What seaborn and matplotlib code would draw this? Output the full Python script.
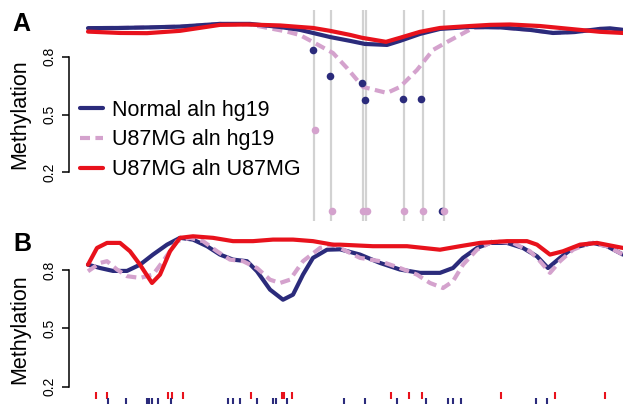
import matplotlib
matplotlib.use("Agg")
import matplotlib.pyplot as plt
from matplotlib.lines import Line2D
import pandas as pd
import seaborn as sns

# ---- panel A: region around the CpG cluster ----
a_normal_x = [88, 120, 150, 180, 220, 250, 280, 300, 313, 330, 350, 365, 387, 400, 420, 440, 470, 500, 530, 553, 575, 600, 610, 623]
a_normal_y = [0.948, 0.949, 0.952, 0.956, 0.970, 0.970, 0.954, 0.939, 0.923, 0.902, 0.882, 0.866, 0.861, 0.882, 0.918, 0.944,
              0.954, 0.952, 0.939, 0.923, 0.928, 0.944, 0.947, 0.939]
a_u87_hg19_x = [88, 120, 150, 180, 220, 250, 263, 287, 300, 313, 333, 347, 363, 387, 400, 417, 433, 447, 473, 487, 500, 530, 553, 575, 600, 623]
a_u87_hg19_y = [0.948, 0.949, 0.952, 0.956, 0.970, 0.967, 0.954, 0.930, 0.912, 0.876, 0.819, 0.741, 0.643, 0.612, 0.643, 0.731,
                0.835, 0.876, 0.949, 0.954, 0.952, 0.939, 0.923, 0.928, 0.944, 0.939]
a_u87_u87_x = [88, 120, 147, 180, 220, 247, 280, 300, 313, 330, 350, 362, 386, 400, 420, 440, 470, 490, 510, 540, 570, 600, 623]
a_u87_u87_y = [0.930, 0.923, 0.922, 0.934, 0.965, 0.967, 0.962, 0.954, 0.949, 0.934, 0.913, 0.898, 0.877, 0.898, 0.929, 0.949,
               0.959, 0.965, 0.967, 0.959, 0.944, 0.929, 0.923]

# CpG sites and per-site methylation calls
cpg_x = [314, 331, 363, 366, 404, 423, 444]
cpg_normal_x = [313, 330, 362, 365, 403, 421, 442]
cpg_normal = [0.835, 0.70, 0.664, 0.575, 0.58, 0.58, 0.0]
cpg_u87_hg19_x = [315, 332, 363, 367, 404, 423, 444]
cpg_u87_hg19 = [0.42, 0.0, 0.0, 0.0, 0.0, 0.0, 0.0]

# ---- panel B: wider region ----
b_normal_x = [88, 100, 113, 127, 140, 153, 167, 180, 193, 207, 220, 233, 247, 257, 270, 283, 293, 303, 313, 327, 340, 360,
              380, 400, 420, 440, 453, 463, 477, 490, 507, 523, 537, 548, 560, 573, 593, 607, 623]
b_normal_y = [0.827, 0.810, 0.795, 0.795, 0.827, 0.879, 0.930, 0.965, 0.956, 0.922, 0.879, 0.853, 0.845, 0.793, 0.699, 0.647,
              0.673, 0.776, 0.862, 0.904, 0.906, 0.879, 0.836, 0.802, 0.785, 0.785, 0.810, 0.862, 0.913, 0.939, 0.939, 0.913,
              0.870, 0.810, 0.862, 0.913, 0.939, 0.922, 0.879]
b_u87_hg19_x = [88, 100, 107, 117, 127, 140, 153, 163, 177, 190, 203, 217, 230, 243, 257, 270, 280, 290, 303, 320, 333, 340,
                360, 380, 400, 417, 430, 443, 453, 463, 477, 493, 513, 530, 540, 550, 560, 573, 590, 607, 623]
b_u87_hg19_y = [0.793, 0.836, 0.845, 0.802, 0.768, 0.759, 0.776, 0.845, 0.948, 0.965, 0.948, 0.896, 0.853, 0.845, 0.810,
                0.750, 0.733, 0.750, 0.845, 0.913, 0.930, 0.913, 0.862, 0.845, 0.810, 0.776, 0.733, 0.707, 0.742, 0.827,
                0.904, 0.948, 0.939, 0.896, 0.845, 0.785, 0.845, 0.904, 0.939, 0.922, 0.879]
b_u87_u87_x = [88, 97, 107, 120, 130, 140, 152, 160, 170, 180, 193, 213, 233, 253, 273, 293, 313, 333, 340, 373, 407, 440,
               460, 480, 507, 527, 537, 550, 563, 580, 597, 623]
b_u87_u87_y = [0.827, 0.913, 0.939, 0.939, 0.896, 0.827, 0.733, 0.776, 0.896, 0.965, 0.973, 0.965, 0.948, 0.948, 0.956,
               0.956, 0.948, 0.930, 0.930, 0.922, 0.922, 0.904, 0.922, 0.939, 0.948, 0.948, 0.930, 0.879, 0.896, 0.930,
               0.939, 0.913]

# CpG positions covered by each alignment (rug)
rug_u87_u87 = [96, 107, 168, 172, 183, 251, 282, 284, 292, 391, 409, 422, 501, 555, 605]
rug_normal = [108, 126, 147, 149, 152, 158, 171, 228, 233, 240, 257, 273, 276, 287, 344, 365, 397, 426, 448, 453, 461,
              536, 547]

labels = ["Normal aln hg19", "U87MG aln hg19", "U87MG aln U87MG"]
colors = {"Normal aln hg19": "#2b2b7b", "U87MG aln hg19": "#d4a2cd", "U87MG aln U87MG": "#e8121c"}
dash = (2.4, 1.3)
lw = 3

sns.set_style("white")
plt.rcParams["font.family"] = ["Liberation Sans", "DejaVu Sans"]
plt.rcParams["text.color"] = "black"
plt.rcParams["ytick.color"] = "black"

W, H = 623, 404
fig = plt.figure(figsize=(W / 100, H / 100), dpi=100)
x0 = 68.5
axA = fig.add_axes([x0 / W, (H - 221) / H, (W - x0) / W, 216 / H])
axB = fig.add_axes([x0 / W, 0, (W - x0) / W, (H - 225) / H])


def draw_curve(ax, x, y, name):
    df = pd.DataFrame({"pos": x, "meth": y})
    sns.lineplot(data=df, x="pos", y="meth", ax=ax, color=colors[name], lw=lw,
                 sort=False, estimator=None, legend=False)
    if name == "U87MG aln hg19":
        ax.lines[-1].set_dashes(dash)


# panel A
axA.vlines(cpg_x, -0.052, 1.043, color="#d2d2d2", lw=1.6, zorder=0)
draw_curve(axA, a_u87_hg19_x, a_u87_hg19_y, "U87MG aln hg19")
draw_curve(axA, a_normal_x, a_normal_y, "Normal aln hg19")
draw_curve(axA, a_u87_u87_x, a_u87_u87_y, "U87MG aln U87MG")
sns.scatterplot(x=cpg_normal_x, y=cpg_normal, ax=axA, color=colors["Normal aln hg19"], s=30, linewidth=0, zorder=5)
sns.scatterplot(x=cpg_u87_hg19_x, y=cpg_u87_hg19, ax=axA, color=colors["U87MG aln hg19"], s=30, linewidth=0, zorder=6)
axA.set_ylim(-0.052, 1.068)

# panel B
draw_curve(axB, b_normal_x, b_normal_y, "Normal aln hg19")
draw_curve(axB, b_u87_hg19_x, b_u87_hg19_y, "U87MG aln hg19")
draw_curve(axB, b_u87_u87_x, b_u87_u87_y, "U87MG aln U87MG")
axB.vlines(rug_u87_u87, 0.136, 0.172, color=colors["U87MG aln U87MG"], lw=1.5)
axB.vlines(rug_normal, 0.105, 0.142, color=colors["Normal aln hg19"], lw=1.5)
axB.set_ylim(0.111, 1.031)

for ax in (axA, axB):
    ax.set_xlim(x0, W)
    for s in ("top", "right", "bottom"):
        ax.spines[s].set_visible(False)
    ax.spines["left"].set_bounds(0.2, 0.8)
    ax.spines["left"].set_linewidth(1.1)
    ax.spines["left"].set_color("black")
    ax.set_xticks([])
    ax.set_yticks([0.2, 0.5, 0.8])
    ax.set_yticklabels(["0.2", "0.5", "0.8"], rotation=90, va="center")
    ax.tick_params(axis="y", left=True, length=5, width=1.1, pad=4, labelsize=10, color="black", labelcolor="black")
    ax.set_xlabel("")
    ax.set_ylabel("")
    ax.patch.set_alpha(0)

fig.text(20 / W, 1 - 114 / H, "Methylation", rotation=90, ha="center", va="center", fontsize=15.5, color="black")
fig.text(20 / W, 1 - 329 / H, "Methylation", rotation=90, ha="center", va="center", fontsize=15.5, color="black")
fig.text(21 / W, 1 - 24 / H, "A", ha="center", va="center", fontsize=18, fontweight="bold", color="black")
fig.text(22 / W, 1 - 244 / H, "B", ha="center", va="center", fontsize=18, fontweight="bold", color="black")

handles = [Line2D([], [], color=colors[n], lw=lw, dashes=(dash if n == "U87MG aln hg19" else (None, None)))
           for n in labels]
leg = axA.legend(handles, labels, loc="center left", bbox_to_anchor=(80 / W, 1 - 140 / H),
                 bbox_transform=fig.transFigure, frameon=False, fontsize=15.5, borderpad=0, borderaxespad=0,
                 handlelength=1.07, handletextpad=0.42, labelspacing=0.41)
for t in leg.get_texts():
    t.set_color("black")

fig.savefig("out.png", dpi=100)
